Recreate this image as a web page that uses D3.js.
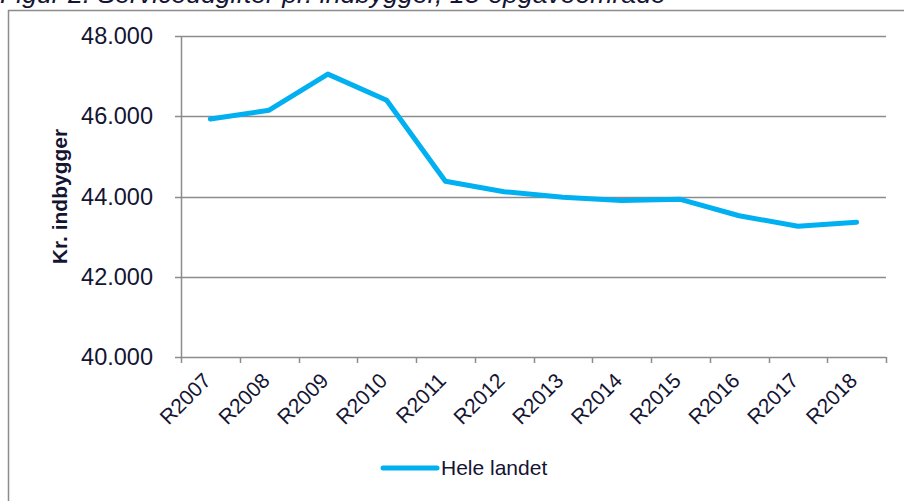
<!DOCTYPE html>
<html>
<head>
<meta charset="utf-8">
<script src="https://cdn.jsdelivr.net/npm/d3@7"></script>
<style>
  body { margin: 0; background: #fff; }
  text { font-family: Arial, "Liberation Sans", sans-serif; fill: #141433; }
</style>
</head>
<body>
<div id="chart"></div>
<script>
// Chart data
const years = ["R2007", "R2008", "R2009", "R2010", "R2011", "R2012",
               "R2013", "R2014", "R2015", "R2016", "R2017", "R2018"];
const heleLandet = [45930, 46150, 47050, 46400, 44380, 44120,
                    43980, 43900, 43930, 43520, 43260, 43360];
const yTicks = [40000, 42000, 44000, 46000, 48000];

const width = 904, height = 501;
const margin = { top: 36, right: 18, bottom: 144, left: 181 };

const svg = d3.select("#chart")
    .append("svg")
    .attr("width", width)
    .attr("height", height);

// Title (cut off at the top of the picture)
svg.append("text")
    .attr("x", 0)
    .attr("y", 3)
    .attr("font-size", 26.6)
    .attr("font-style", "italic")
    .text("Figur 2. Serviceudgifter pr. indbygger, 13-opgaveområde");

// Outer frame
svg.append("path")
    .attr("d", `M8.5,${height} V10.5 H${width}`)
    .attr("fill", "none")
    .attr("stroke", "#8c8c8c")
    .attr("stroke-width", 1.5);

const x = d3.scaleBand()
    .domain(years)
    .range([margin.left, width - margin.right]);

const y = d3.scaleLinear()
    .domain([40000, 48000])
    .range([height - margin.bottom, margin.top]);

// Gridlines
svg.append("g")
    .selectAll("line")
    .data(yTicks)
    .join("line")
    .attr("x1", margin.left - 6)
    .attr("x2", width - margin.right)
    .attr("y1", d => Math.round(y(d)) + 0.5)
    .attr("y2", d => Math.round(y(d)) + 0.5)
    .attr("stroke", "#8c8c8c")
    .attr("stroke-width", 1.5);

// Y axis line
svg.append("line")
    .attr("x1", margin.left + 0.5)
    .attr("x2", margin.left + 0.5)
    .attr("y1", margin.top)
    .attr("y2", y(40000))
    .attr("stroke", "#8c8c8c")
    .attr("stroke-width", 1.5);

// Y tick labels
svg.append("g")
    .selectAll("text")
    .data(yTicks)
    .join("text")
    .attr("x", margin.left - 28)
    .attr("y", d => y(d))
    .attr("dy", "0.35em")
    .attr("text-anchor", "end")
    .attr("font-size", 23.5)
    .text(d => d3.format(",.0f")(d).replace(",", "."));

// Y axis title
svg.append("text")
    .attr("transform", `translate(67,${(margin.top + y(40000)) / 2}) rotate(-90)`)
    .attr("text-anchor", "middle")
    .attr("font-size", 21)
    .attr("font-weight", "bold")
    .text("Kr. indbygger");

// X ticks
const xEdges = years.map(d => x(d)).concat([width - margin.right]);
svg.append("g")
    .selectAll("line")
    .data(xEdges)
    .join("line")
    .attr("x1", d => Math.round(d) + 0.5)
    .attr("x2", d => Math.round(d) + 0.5)
    .attr("y1", y(40000))
    .attr("y2", y(40000) + 6)
    .attr("stroke", "#8c8c8c")
    .attr("stroke-width", 1.5);

// X labels
svg.append("g")
    .selectAll("text")
    .data(years)
    .join("text")
    .attr("transform", d => `translate(${x(d) + x.bandwidth() / 2 + 2},${y(40000) + 25}) rotate(-45)`)
    .attr("text-anchor", "end")
    .attr("font-size", 21)
    .text(d => d);

// Line
const line = d3.line()
    .x((d, i) => x(years[i]) + x.bandwidth() / 2)
    .y(d => y(d));

svg.append("path")
    .datum(heleLandet)
    .attr("d", line)
    .attr("fill", "none")
    .attr("stroke", "#00b0f0")
    .attr("stroke-width", 5)
    .attr("stroke-linejoin", "round")
    .attr("stroke-linecap", "round");

// Legend
svg.append("line")
    .attr("x1", 383)
    .attr("x2", 437)
    .attr("y1", 468)
    .attr("y2", 468)
    .attr("stroke", "#00b0f0")
    .attr("stroke-width", 5)
    .attr("stroke-linecap", "round");

svg.append("text")
    .attr("x", 441)
    .attr("y", 468)
    .attr("dy", "0.35em")
    .attr("font-size", 21)
    .text("Hele landet");
</script>
</body>
</html>
